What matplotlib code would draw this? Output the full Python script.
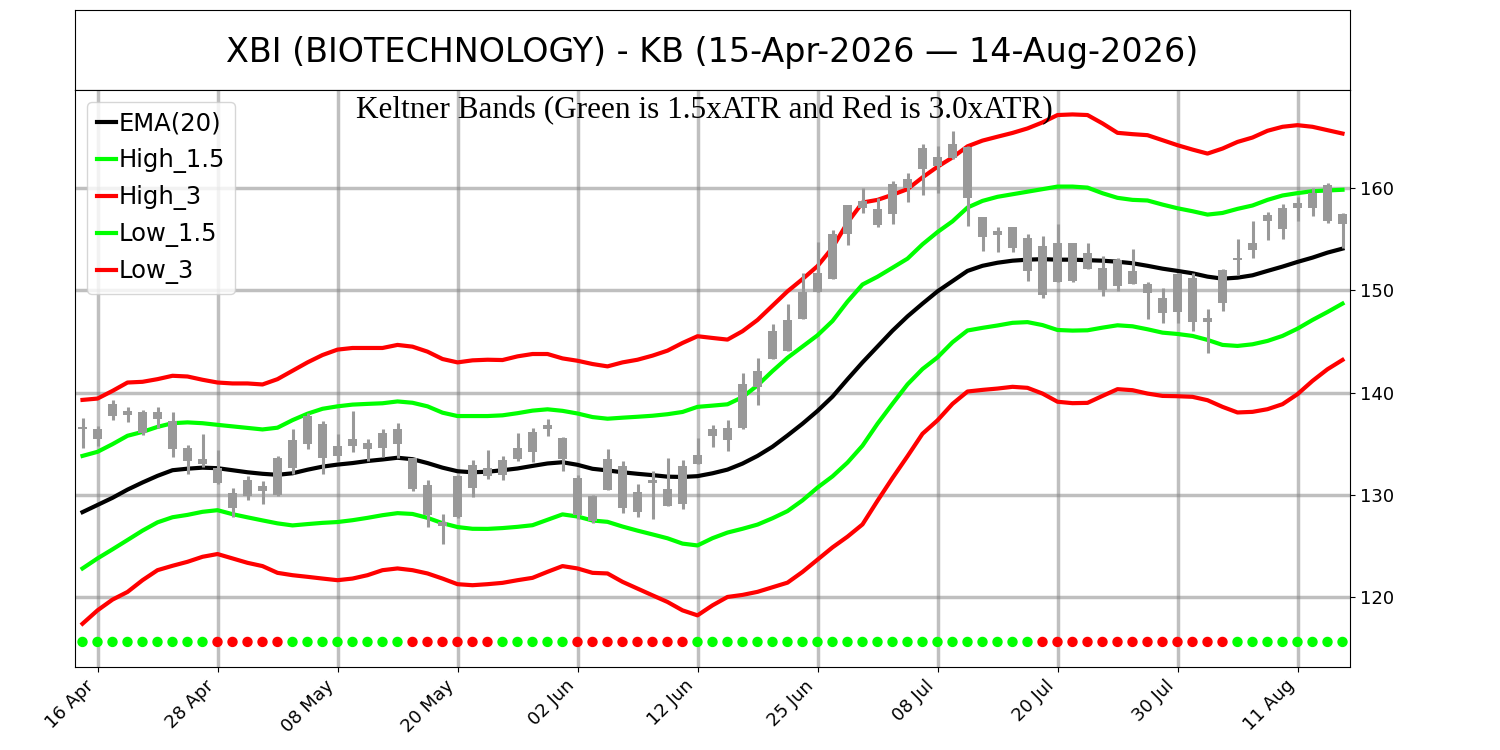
import matplotlib
matplotlib.use("Agg")
import matplotlib.pyplot as plt

# daily bars, 15-Apr-2026 .. 14-Aug-2026 (85 sessions)
highs = [137.54, 136.72, 139.28, 138.62, 138.30, 138.62, 138.13, 134.82, 135.90, 134.36,
         130.66, 131.80, 131.31, 133.77, 136.39, 138.03, 137.21, 135.90, 138.20, 135.48,
         136.39, 136.98, 133.61, 131.48, 128.13, 131.97, 133.44, 134.36, 133.77, 136.07,
         136.56, 137.38, 135.67, 131.97, 130.00, 134.49, 133.34, 131.08, 132.30, 133.61,
         133.44, 135.57, 136.79, 137.31, 141.90, 143.37, 146.74, 148.71, 151.72, 154.73,
         155.88, 158.33, 160.00, 158.99, 160.72, 161.47, 164.31, 164.08, 165.56, 164.08,
         157.22, 156.24, 156.24, 155.56, 155.33, 156.47, 154.67, 154.67, 153.35, 153.20,
         154.08, 150.82, 150.26, 151.73, 151.73, 148.14, 152.12, 155.07, 156.80, 157.68,
         158.43, 159.18, 159.97, 160.49, 157.61]
lows = [134.59, 134.75, 137.31, 137.11, 135.84, 136.49, 133.70, 132.07, 132.72, 131.10,
        127.80, 129.44, 129.11, 129.84, 132.07, 134.43, 132.07, 133.35, 134.16, 133.28,
        133.70, 133.61, 130.33, 126.82, 125.18, 127.70, 129.77, 131.57, 131.41, 133.34,
        133.21, 135.74, 132.36, 127.61, 127.21, 130.43, 128.26, 127.87, 127.61, 128.92,
        128.59, 133.05, 134.66, 134.26, 136.46, 138.79, 143.27, 144.03, 147.20, 149.82,
        151.13, 154.40, 157.55, 156.24, 156.53, 158.66, 159.31, 159.51, 162.84, 156.31,
        153.86, 153.76, 153.76, 150.92, 149.22, 150.82, 150.82, 152.06, 149.44, 149.98,
        150.59, 147.22, 146.76, 146.83, 146.01, 143.82, 147.97, 151.47, 153.20, 154.93,
        155.07, 156.80, 157.29, 156.57, 154.18]
opens = [136.40, 136.39, 137.70, 138.20, 136.07, 137.38, 137.21, 134.59, 133.54, 132.62,
         130.16, 129.84, 130.82, 130.00, 132.62, 134.92, 136.89, 134.80, 134.75, 135.08,
         134.59, 134.92, 133.55, 130.98, 127.38, 127.80, 130.66, 132.62, 131.97, 133.51,
         134.16, 136.79, 135.60, 131.64, 129.90, 130.49, 132.85, 130.26, 131.41, 130.56,
         129.11, 133.05, 135.74, 136.56, 136.56, 140.59, 143.27, 144.03, 147.20, 149.82,
         151.13, 155.48, 158.76, 157.94, 157.45, 160.00, 161.86, 163.00, 162.90, 163.99,
         157.22, 155.82, 156.24, 155.16, 154.35, 150.82, 154.61, 153.69, 152.22, 150.42,
         151.90, 150.59, 149.28, 147.88, 151.24, 147.32, 148.73, 152.94, 153.95, 156.80,
         155.98, 158.01, 158.10, 160.29, 157.45]
closes = [136.60, 135.48, 138.85, 137.77, 138.13, 138.13, 134.52, 133.28, 133.05, 131.15,
          128.69, 131.48, 130.33, 133.60, 135.34, 137.70, 133.60, 133.80, 135.48, 134.43,
          136.07, 136.46, 130.56, 128.03, 126.95, 131.87, 132.95, 131.80, 133.44, 134.59,
          136.16, 136.46, 133.51, 128.03, 127.48, 133.54, 128.69, 128.36, 131.15, 128.92,
          132.85, 133.93, 136.46, 135.34, 140.82, 142.06, 145.99, 147.14, 149.82, 151.65,
          155.48, 158.33, 158.10, 156.37, 160.39, 160.88, 163.89, 162.19, 164.31, 158.99,
          155.26, 155.39, 154.18, 151.90, 149.51, 154.61, 150.92, 152.06, 150.00, 152.95,
          150.59, 149.77, 147.81, 151.57, 146.90, 146.90, 151.99, 153.20, 154.61, 157.35,
          158.01, 158.59, 159.51, 156.80, 156.47]

ema20 = [128.30, 129.00, 129.70, 130.50, 131.20, 131.85, 132.40, 132.55, 132.65, 132.60,
         132.40, 132.20, 132.05, 131.95, 132.10, 132.45, 132.75, 132.95, 133.10, 133.30,
         133.45, 133.62, 133.48, 133.10, 132.65, 132.30, 132.20, 132.25, 132.40, 132.57,
         132.82, 133.06, 133.18, 132.93, 132.54, 132.38, 132.20, 132.05, 131.92, 131.77,
         131.74, 131.82, 132.10, 132.46, 133.05, 133.80, 134.70, 135.80, 136.95, 138.20,
         139.60, 141.30, 142.95, 144.50, 146.05, 147.45, 148.70, 149.90, 150.90, 151.90,
         152.40, 152.70, 152.90, 153.00, 153.05, 153.00, 153.00, 152.95, 152.90, 152.80,
         152.65, 152.40, 152.12, 151.90, 151.67, 151.34, 151.14, 151.24, 151.47, 151.90,
         152.32, 152.78, 153.20, 153.69, 154.08]
high_15 = [133.80, 134.20, 134.95, 135.77, 136.15, 136.64, 137.00, 137.08, 137.00, 136.84,
           136.69, 136.54, 136.39, 136.56, 137.30, 137.93, 138.41, 138.65, 138.82, 138.89,
           138.95, 139.13, 139.00, 138.65, 138.03, 137.70, 137.70, 137.70, 137.77, 137.98,
           138.23, 138.36, 138.21, 137.95, 137.60, 137.44, 137.54, 137.63, 137.73, 137.88,
           138.10, 138.60, 138.72, 138.85, 139.55, 140.70, 142.10, 143.40, 144.50, 145.60,
           147.00, 148.90, 150.57, 151.33, 152.21, 153.10, 154.50, 155.70, 156.75, 158.10,
           158.75, 159.15, 159.40, 159.65, 159.90, 160.15, 160.15, 160.05, 159.50, 159.05,
           158.85, 158.79, 158.39, 158.03, 157.74, 157.41, 157.57, 157.97, 158.30, 158.85,
           159.28, 159.51, 159.70, 159.77, 159.84]
high_3 = [139.28, 139.41, 140.16, 140.98, 141.05, 141.31, 141.64, 141.57, 141.25, 140.98,
          140.89, 140.89, 140.79, 141.31, 142.13, 142.95, 143.67, 144.20, 144.36, 144.36,
          144.36, 144.66, 144.49, 144.00, 143.28, 142.95, 143.15, 143.21, 143.18, 143.54,
          143.77, 143.77, 143.34, 143.11, 142.79, 142.56, 142.95, 143.21, 143.61, 144.10,
          144.85, 145.51, 145.34, 145.18, 146.00, 147.10, 148.50, 149.90, 151.10, 152.37,
          154.17, 156.63, 158.59, 158.85, 159.35, 159.90, 161.05, 162.09, 163.00, 164.09,
          164.65, 165.03, 165.40, 165.84, 166.43, 167.15, 167.21, 167.15, 166.33, 165.41,
          165.28, 165.18, 164.69, 164.20, 163.77, 163.38, 163.87, 164.52, 164.95, 165.61,
          166.00, 166.16, 166.00, 165.67, 165.34]
low_15 = [122.79, 123.77, 124.66, 125.57, 126.49, 127.30, 127.80, 128.03, 128.33, 128.49,
          128.10, 127.79, 127.49, 127.20, 127.00, 127.13, 127.25, 127.33, 127.51, 127.74,
          128.00, 128.20, 128.12, 127.74, 127.22, 126.84, 126.67, 126.66, 126.74, 126.86,
          127.02, 127.55, 128.08, 127.87, 127.48, 127.35, 126.89, 126.49, 126.12, 125.74,
          125.22, 125.04, 125.75, 126.30, 126.67, 127.08, 127.70, 128.40, 129.45, 130.70,
          131.80, 133.15, 134.80, 136.95, 138.90, 140.80, 142.30, 143.44, 144.92, 146.07,
          146.33, 146.56, 146.82, 146.89, 146.60, 146.12, 146.06, 146.09, 146.35, 146.58,
          146.48, 146.19, 145.86, 145.73, 145.54, 145.15, 144.66, 144.56, 144.72, 145.05,
          145.54, 146.25, 147.10, 147.88, 148.70]
low_3 = [117.38, 118.69, 119.74, 120.49, 121.64, 122.62, 123.05, 123.44, 123.93, 124.20,
         123.77, 123.34, 123.02, 122.36, 122.13, 121.97, 121.80, 121.64, 121.80, 122.13,
         122.62, 122.79, 122.62, 122.30, 121.80, 121.25, 121.15, 121.25, 121.38, 121.64,
         121.87, 122.46, 123.02, 122.79, 122.36, 122.30, 121.48, 120.82, 120.16, 119.51,
         118.69, 118.20, 119.18, 120.00, 120.20, 120.50, 120.95, 121.40, 122.45, 123.65,
         124.85, 125.90, 127.10, 129.41, 131.64, 133.77, 135.97, 137.28, 138.89, 140.10,
         140.26, 140.39, 140.56, 140.46, 139.90, 139.10, 138.96, 138.99, 139.67, 140.33,
         140.23, 139.90, 139.67, 139.64, 139.58, 139.25, 138.60, 138.05, 138.11, 138.37,
         138.86, 139.84, 141.14, 142.28, 143.19]

# G = bands outside, R = squeeze
squeeze = "GGGGGGGGGRRRRRGGGGGGGGRRRRRRGGGGGRRRRRRRRGGGGGGGGGGGGGGGGGGGGGGGRRRRRRRRRRRRRGGGGGGGG"
dot_level = 115.6

tick_labels = ["16 Apr", "28 Apr", "08 May", "20 May", "02 Jun", "12 Jun",
               "25 Jun", "08 Jul", "20 Jul", "30 Jul", "11 Aug"]

title = "XBI (BIOTECHNOLOGY) - KB (15-Apr-2026 \u2014 14-Aug-2026)"
subtitle = "Keltner Bands (Green is 1.5xATR and Red is 3.0xATR)"

fig = plt.figure(figsize=(15, 7.5), dpi=100)

# title box
tax = fig.add_axes([0.05, 0.88, 0.85, 0.1067])
tax.set_xticks([])
tax.set_yticks([])
tax.text(0.5, 0.47, title, ha="center", va="center", fontsize=24,
         transform=tax.transAxes)

ax = fig.add_axes([0.05, 0.1107, 0.85, 0.7693])
n = len(closes)
x = list(range(n))

ax.plot(x, ema20, color="black", lw=3, label="EMA(20)")
ax.plot(x, high_15, color="#00ff00", lw=3, label="High_1.5")
ax.plot(x, high_3, color="#ff0000", lw=3, label="High_3")
ax.plot(x, low_15, color="#00ff00", lw=3, label="Low_1.5")
ax.plot(x, low_3, color="#ff0000", lw=3, label="Low_3")

# candles (all grey)
ax.vlines(x, lows, highs, color="#999999", lw=2.2, zorder=3)
bottoms = [min(o, c) for o, c in zip(opens, closes)]
heights = [max(abs(c - o), 0.12) for o, c in zip(opens, closes)]
ax.bar(x, heights, bottom=bottoms, width=0.6, color="#999999", zorder=3)

dot_colors = ["#00ff00" if s == "G" else "#ff0000" for s in squeeze]
ax.scatter(x, [dot_level] * n, c=dot_colors, s=42, zorder=3)

ax.set_xlim(-0.5, n - 0.5)
ax.set_ylim(113.15, 169.6)
ax.set_xticks(range(1, n, 8))
ax.set_xticklabels(tick_labels, rotation=45, ha="right", fontsize=13)
ax.yaxis.tick_right()
ax.set_yticks([120, 130, 140, 150, 160])
ax.tick_params(axis="y", labelsize=13)
ax.grid(True, color="gray", alpha=0.5, lw=2.5)

ax.text(0.494, 0.99, subtitle, transform=ax.transAxes, ha="center", va="top",
        fontsize=22.5, family="Liberation Serif")

leg = ax.legend(loc="upper left", fontsize=17.5, handlelength=0.8,
                handletextpad=0.1, borderaxespad=0.5)

fig.savefig("out.png", dpi=100)
